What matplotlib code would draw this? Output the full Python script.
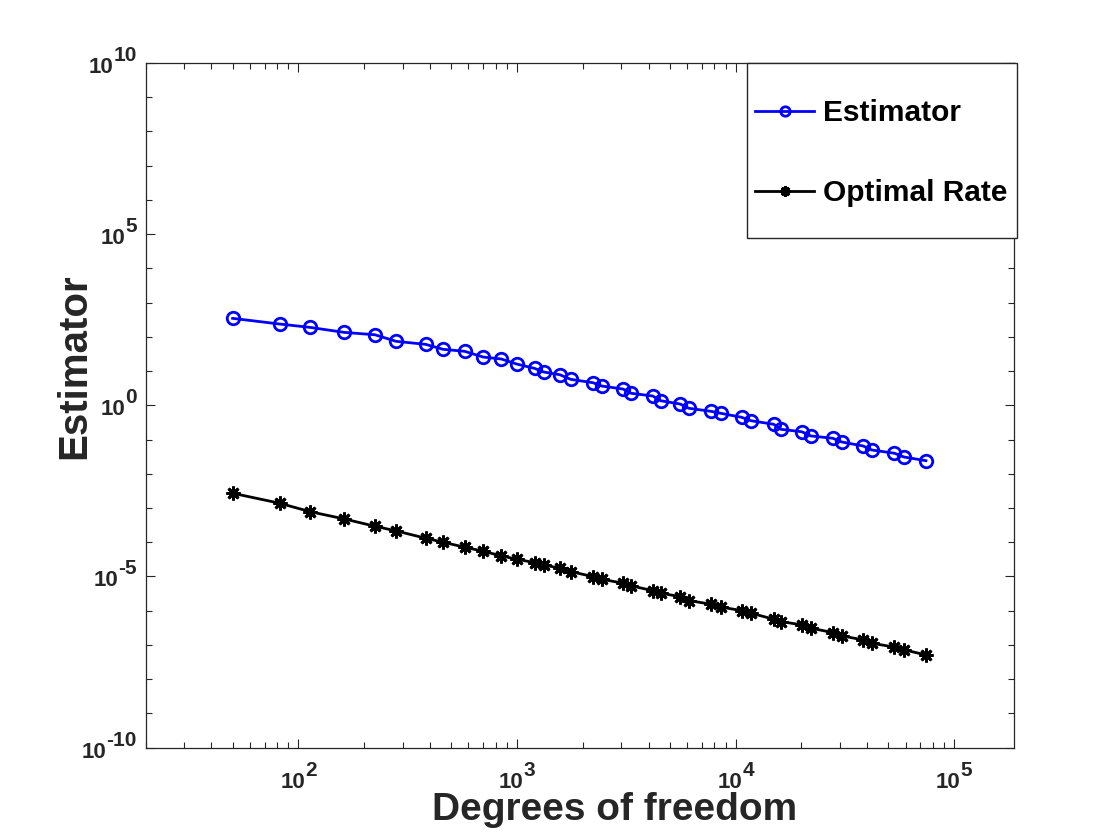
import matplotlib
matplotlib.use("Agg")
import matplotlib.pyplot as plt
from matplotlib.patches import Rectangle
from matplotlib.ticker import LogLocator, NullFormatter

plt.rcParams['font.family'] = ['Liberation Sans', 'DejaVu Sans']
plt.rcParams['font.weight'] = 'bold'

# degrees of freedom per refinement step
dofs = [50, 82, 113, 162, 224, 280, 382, 459, 577, 700, 849, 995, 1203, 1327,
        1571, 1759, 2225, 2439, 3053, 3336, 4177, 4546, 5571, 6125, 7704, 8565,
        10653, 11749, 14934, 16130, 20066, 22131, 27822, 30600, 38320, 42014,
        53330, 58884, 74270]

estimator = [347, 237, 189, 135, 115, 73.9, 60.4, 43.2, 37.7, 25.7, 22.5, 16.1,
             12.0, 9.38, 7.82, 5.74, 4.57, 3.66, 2.99, 2.24, 1.87, 1.36, 1.09,
             0.817, 0.668, 0.584, 0.446, 0.355, 0.279, 0.199, 0.169, 0.127,
             0.109, 0.0848, 0.0648, 0.0495, 0.0397, 0.0309, 0.0241]

optimal = [2.70e-3, 1.38e-3, 7.82e-4, 4.79e-4, 2.93e-4, 2.14e-4, 1.31e-4, 1.00e-4,
           7.14e-5, 5.46e-5, 3.98e-5, 3.19e-5, 2.54e-5, 2.17e-5, 1.74e-5, 1.39e-5,
           9.9e-6, 8.3e-6, 6.36e-6, 5.30e-6, 3.86e-6, 3.24e-6, 2.58e-6, 1.97e-6,
           1.55e-6, 1.27e-6, 1.01e-6, 8.45e-7, 5.65e-7, 4.81e-7, 3.85e-7, 3.08e-7,
           2.30e-7, 1.84e-7, 1.40e-7, 1.12e-7, 8.6e-8, 7.2e-8, 5.1e-8]

xdecades = [2, 3, 4, 5]
ydecades = [-10, -5, 0, 5, 10]

txt = '#262626'
base_size = 16
exp_size = 15

fig = plt.figure(figsize=(11.2, 8.4), dpi=100)
ax = fig.add_axes([0.13, 0.11, 0.775, 0.815])

ax.loglog(dofs, estimator, '-o', color=(0, 0, 1), lw=2, ms=9, mew=2,
          mfc='none', label='Estimator')
ax.loglog(dofs, optimal, '-', color='k', lw=2, marker=(8, 2, 0), ms=10, mew=2,
          label='Optimal Rate')

ax.set_xlim(20, 1.87e5)
ax.set_ylim(1e-10, 1e10)

ax.set_xticks([10.0 ** e for e in xdecades])
ax.set_yticks([10.0 ** e for e in ydecades])
ax.yaxis.set_minor_locator(LogLocator(base=10, subs=(1.0,), numticks=30))
ax.yaxis.set_minor_formatter(NullFormatter())
ax.xaxis.set_minor_locator(LogLocator(base=10, subs=range(2, 10), numticks=30))
ax.xaxis.set_minor_formatter(NullFormatter())

ax.tick_params(which='both', direction='in', top=True, right=True,
               labelbottom=False, labelleft=False, width=0.8, colors=txt)
ax.tick_params(which='major', length=6.5)
ax.tick_params(which='minor', length=4)
for s in ax.spines.values():
    s.set_linewidth(0.9)
    s.set_color(txt)

# MATLAB style power labels: "10" plus a raised exponent
renderer = fig.canvas.get_renderer()


def text_width(s, size):
    t = fig.text(0, 0, s, fontsize=size, fontweight='bold')
    w = t.get_window_extent(renderer).width
    t.remove()
    return w


for e in xdecades:
    wb = text_width('10', base_size)
    we = text_width(str(e), exp_size)
    left = -(wb + we) / 2
    ax.annotate('10', xy=(10.0 ** e, 0), xycoords=('data', 'axes fraction'),
                xytext=(left, -40), textcoords='offset pixels', ha='left',
                va='baseline', fontsize=base_size, fontweight='bold', color=txt,
                annotation_clip=False)
    ax.annotate(str(e), xy=(10.0 ** e, 0), xycoords=('data', 'axes fraction'),
                xytext=(left + wb, -28), textcoords='offset pixels', ha='left',
                va='baseline', fontsize=exp_size, fontweight='bold', color=txt,
                annotation_clip=False)

for e in ydecades:
    we = text_width(str(e), exp_size)
    ax.annotate(str(e), xy=(0, 10.0 ** e), xycoords=('axes fraction', 'data'),
                xytext=(-9, 2), textcoords='offset pixels', ha='right',
                va='baseline', fontsize=exp_size, fontweight='bold', color=txt,
                annotation_clip=False)
    ax.annotate('10', xy=(0, 10.0 ** e), xycoords=('axes fraction', 'data'),
                xytext=(-9 - we, -10), textcoords='offset pixels', ha='right',
                va='baseline', fontsize=base_size, fontweight='bold', color=txt,
                annotation_clip=False)

fig.text(615 / 1120, 1 - 810 / 840, 'Degrees of freedom', fontsize=28,
         fontweight='bold', color=txt, ha='center', va='center')
fig.text(74 / 1120, 1 - 366 / 840, 'Estimator', fontsize=29, rotation=90,
         fontweight='bold', color=txt, ha='center', va='center')

# legend box (MATLAB style, tall padding)
fig.add_artist(Rectangle((746.7 / 1120, 1 - 238.3 / 840), 270 / 1120, 175.6 / 840,
                         transform=fig.transFigure, facecolor='white',
                         edgecolor=txt, lw=1, zorder=3))
h, l = ax.get_legend_handles_labels()
fig.legend(h, l, loc='upper left', bbox_to_anchor=(754.7 / 1120, 1 - 99 / 840),
           frameon=False, borderpad=0, borderaxespad=0, handlelength=2.0,
           handletextpad=0.3, labelspacing=1.75, markerscale=0.75,
           prop={'weight': 'bold', 'size': 21.5})

fig.savefig('out.png', dpi=100, facecolor='white')
